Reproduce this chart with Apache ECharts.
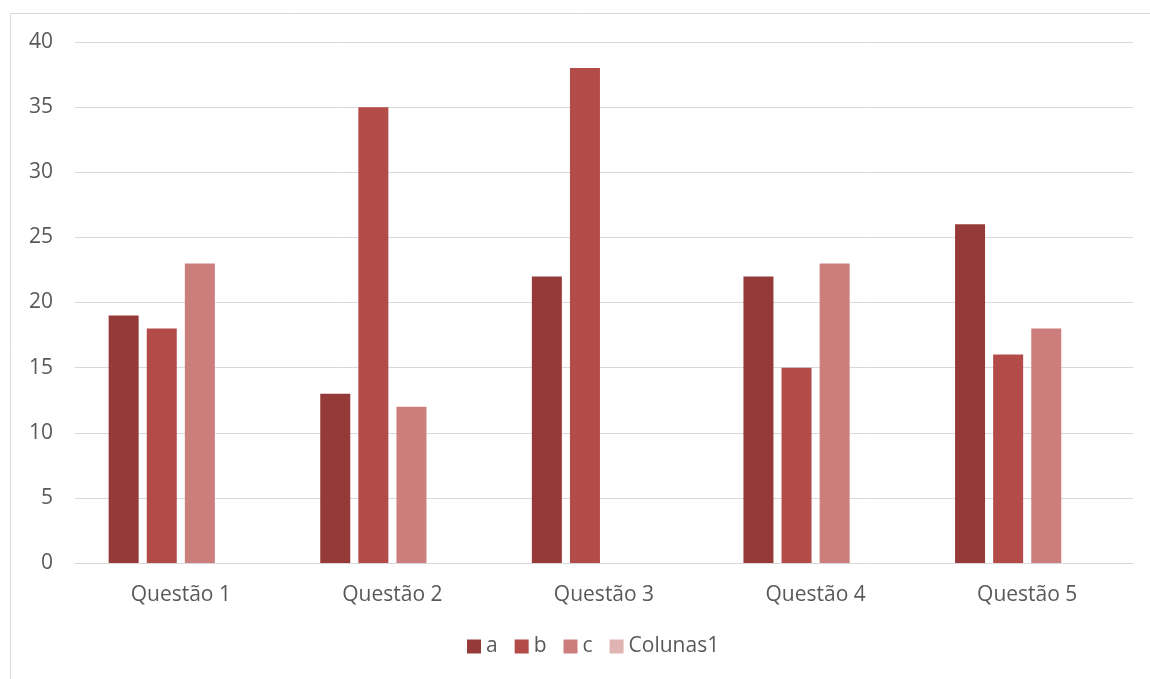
<!DOCTYPE html>
<html>
<head>
<meta charset="utf-8">
<script src="https://cdn.jsdelivr.net/npm/echarts@6/dist/echarts.min.js"></script>
<style>
  html, body { margin: 0; padding: 0; background: #fff; }
  #chart { width: 1150px; height: 679px; }
</style>
</head>
<body>
<div id="chart"></div>
<script>
// Categories and series values
const categories = ['Questão 1', 'Questão 2', 'Questão 3', 'Questão 4', 'Questão 5'];
const seriesA = [19, 13, 22, 22, 26];
const seriesB = [18, 35, 38, 15, 16];
const seriesC = [23, 12, null, 23, 18];
const seriesColunas1 = [null, null, null, null, null];
const seriesNames = ['a', 'b', 'c', 'Colunas1'];
const seriesColors = ['#963A39', '#B34B48', '#CC7E7C', '#DFB4B3'];

const dataSets = [seriesA, seriesB, seriesC, seriesColunas1];
const textColor = '#595959';
const fontFamily = 'Open Sans, Liberation Sans, sans-serif';

const chart = echarts.init(document.getElementById('chart'), null, { renderer: 'canvas' });
chart.setOption({
  animation: false,
  backgroundColor: '#ffffff',
  graphic: [{
    type: 'rect',
    shape: { x: 10.5, y: 13.5, width: 1200, height: 700 },
    style: { fill: 'none', stroke: '#D9D9D9', lineWidth: 1 },
    silent: true
  }],
  legend: {
    data: seriesNames,
    bottom: 17,
    left: 462,
    itemWidth: 14,
    itemHeight: 14,
    itemGap: 17,
    icon: 'rect',
    textStyle: { color: textColor, fontSize: 21, fontFamily: fontFamily }
  },
  grid: { left: 75, right: 17, top: 42, bottom: 116, containLabel: false },
  xAxis: {
    type: 'category',
    data: categories,
    axisTick: { show: false },
    axisLine: { lineStyle: { color: '#D9D9D9', width: 1 } },
    axisLabel: { color: textColor, fontSize: 21, fontFamily: fontFamily, margin: 22 }
  },
  yAxis: {
    type: 'value',
    min: 0,
    max: 40,
    interval: 5,
    axisLine: { show: false },
    axisTick: { show: false },
    splitLine: { lineStyle: { color: '#D9D9D9', width: 1 } },
    axisLabel: { color: textColor, fontSize: 21, fontFamily: fontFamily, margin: 22 }
  },
  series: seriesNames.map((name, i) => ({
    name: name,
    type: 'bar',
    data: dataSets[i],
    barWidth: 30,
    barGap: '27%',
    itemStyle: { color: seriesColors[i] }
  }))
});
</script>
</body>
</html>
